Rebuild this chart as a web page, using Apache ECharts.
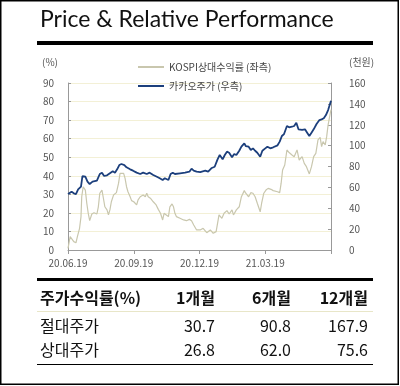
<!DOCTYPE html>
<html><head><meta charset="utf-8">
<script src="https://cdn.jsdelivr.net/npm/echarts@6/dist/echarts.min.js"></script>
<style>html,body{margin:0;padding:0;background:#fff}#c{width:400px;height:386px}</style>
</head><body><div id="c"></div>
<script>
// x = day offset from 2020-06-19
const tickLabels = ['20.06.19','20.09.19','20.12.19','21.03.19'];
const kakaoDays = [0,5,8,11,14,18,20,24,27,30,34,40,44,47,50,54,58,62,65,68,71,74,78,81,86,90,95,100,104,109,113,118,123,127,131,134,139,142,145,148,155,162,168,171,174,178,183,190,194,199,203,207,210,214,217,220,223,227,230,233,237,240,244,246,250,253,256,259,262,266,269,273,276,280,284,290,293,296,299,303,306,310,313,316,319,324,328,331,334,337,340,344,348,351,354,357,360,364];
const kakaoPrice = [53.6,55.9,54.3,53.6,58.1,60.7,70.9,70.2,65.5,63.2,65.5,66.4,72.8,74.1,70.9,71.6,73.5,75.4,74.1,77.3,81.4,82.4,81.4,79.2,77.3,76.0,74.1,72.8,74.1,72.8,74.1,71.9,70.2,68.7,67.1,68.7,67.1,72.8,74.1,72.8,73.5,74.1,75.0,77.9,76.0,75.0,74.7,76.0,75.0,78.6,79.8,86.9,91.0,86.9,91.0,94.2,93.2,88.8,92.0,91.0,95.1,99.0,102.2,99.6,99.0,95.8,97.4,95.1,93.2,89.4,95.1,97.4,99.0,97.4,98.4,100.3,103.8,109.2,111.1,118.8,117.5,118.1,118.8,122.0,115.6,115.0,115.6,112.4,109.2,112.4,115.6,120.7,124.5,125.2,126.2,129.3,134.1,143.0];
const relDays = [0,3,5,8,11,13,16,18,19,21,24,26,28,30,33,36,40,42,44,47,49,51,54,56,58,60,63,65,67,70,72,74,77,79,81,83,86,88,91,95,97,100,102,104,107,109,111,114,118,122,125,128,131,133,136,139,141,144,146,148,150,155,160,164,168,171,174,178,183,187,192,197,201,205,207,209,213,216,220,223,227,229,233,237,240,244,246,250,253,256,259,262,266,268,271,274,277,281,284,290,293,295,297,300,303,306,310,313,317,320,324,327,330,334,337,340,343,346,349,351,353,356,358,360,363,364];
const relReturn = [0.9,7.2,6.3,4.5,3.9,7.2,11.7,18.0,28.7,34.1,32.3,25.2,19.8,15.8,19.4,20.1,19.4,23.3,30.6,32.3,27.9,23.3,21.6,18.9,21.6,26.0,29.6,30.6,30.9,36.0,41.3,41.7,41.3,38.6,34.1,31.4,28.7,26.6,26.0,24.3,27.0,28.7,27.9,29.6,28.7,30.6,28.7,27.9,26.0,24.3,21.9,19.8,16.2,19.8,18.9,18.0,23.3,24.8,23.3,19.8,18.0,17.1,16.2,15.8,16.5,15.8,13.5,10.8,10.8,11.7,9.3,10.8,9.0,9.9,14.4,18.9,17.1,19.8,21.2,19.4,21.6,18.9,21.6,23.3,28.7,32.0,30.6,28.7,30.9,30.6,28.7,25.2,20.6,25.2,30.6,32.3,33.2,32.7,32.0,31.4,30.9,36.0,43.1,45.8,53.9,52.5,51.2,50.3,53.9,48.5,50.3,46.7,44.9,41.0,44.9,50.3,52.1,59.3,60.7,55.7,58.4,56.6,61.1,67.4,73.7,75.6];
const tableHeader = ['주가수익률(%)','1개월','6개월','12개월'];
const tableRows = [['절대주가','30.7','90.8','167.9'],['상대주가','26.8','62.0','75.6']];
const relName = 'KOSPI상대수익률 (좌측)';
const kakaoName = '카카오주가 (우측)';

const zip = (a,b)=>a.map((d,i)=>[d,b[i]]);
const chart = echarts.init(document.getElementById('c'));
const FONT = '"Noto Sans CJK KR","Noto Sans",sans-serif';
const lbl = {color:'#555', fontSize:10, fontFamily:FONT};

const g = [];
g.push({type:'text', left:40, top:8, style:{text:'Price & Relative Performance', fontSize:23, fontFamily:'Lato, "Open Sans", sans-serif', fill:'#111'}});
g.push({type:'rect', shape:{x:37,y:41,width:336,height:4}, style:{fill:'#000'}});
g.push({type:'rect', shape:{x:37,y:278,width:336,height:3}, style:{fill:'#000'}});
g.push({type:'rect', shape:{x:37,y:311,width:336,height:1}, style:{fill:'#e8e6c8'}});
g.push({type:'rect', shape:{x:37,y:364,width:336,height:1}, style:{fill:'#000'}});
g.push({type:'rect', shape:{x:0.75,y:0.75,width:397.5,height:383.5}, style:{fill:'none', stroke:'#000', lineWidth:1.5}});
const colRight = [215, 291, 368];
const rowY = [298, 326, 350];
g.push({type:'text', x:40, y:rowY[0], style:{text:tableHeader[0], fontSize:16, fontWeight:'bold', fontFamily:FONT, fill:'#111', textVerticalAlign:'middle'}});
for (let c=1;c<4;c++) g.push({type:'text', x:colRight[c-1], y:rowY[0], style:{text:tableHeader[c], fontSize:16, fontWeight:'bold', fontFamily:FONT, fill:'#111', textAlign:'right', textVerticalAlign:'middle'}});
tableRows.forEach((r,ri)=>{
  g.push({type:'text', x:40, y:rowY[ri+1], style:{text:r[0], fontSize:16, fontFamily:FONT, fill:'#111', textVerticalAlign:'middle'}});
  for (let c=1;c<4;c++) g.push({type:'text', x:colRight[c-1], y:rowY[ri+1], style:{text:r[c], fontSize:16, fontFamily:FONT, fill:'#111', textAlign:'right', textVerticalAlign:'middle'}});
});

chart.setOption({
  animation:false,
  backgroundColor:'#fff',
  graphic: g,
  legend:{
    orient:'vertical', left:133, top:57, itemWidth:26, itemHeight:2, itemGap:9,
    icon:'rect',
    textStyle:{color:'#444', fontSize:10, fontFamily:FONT},
    data:[relName, kakaoName]
  },
  grid:{left:68, right:69, top:83, bottom:136},
  xAxis:{
    type:'value', min:0, max:364, interval:91,
    axisLine:{lineStyle:{color:'#999'}},
    axisTick:{inside:false, length:4, lineStyle:{color:'#999'}},
    splitLine:{show:false},
    axisLabel:{...lbl, margin:8, formatter:(v)=>{const i=Math.round(v/91); return i<tickLabels.length?tickLabels[i]:'';}}
  },
  yAxis:[
    {type:'value', min:0, max:90, interval:10, name:'(%)', nameLocation:'end', nameGap:16,
     nameTextStyle:{...lbl, align:'right', padding:[0,10,0,0]},
     axisLine:{show:true, lineStyle:{color:'#999'}}, axisTick:{show:true, inside:true, length:3, lineStyle:{color:'#999'}},
     splitLine:{lineStyle:{color:'#f3f0d6'}}, axisLabel:{...lbl, margin:14}},
    {type:'value', min:0, max:160, interval:20, name:'(천원)', nameLocation:'end', nameGap:16,
     nameTextStyle:{...lbl, align:'left', padding:[0,0,0,18]},
     axisLine:{show:true, lineStyle:{color:'#999'}}, axisTick:{show:true, inside:true, length:3, lineStyle:{color:'#999'}},
     splitLine:{show:false}, axisLabel:{...lbl, margin:18}}
  ],
  series:[
    {name:relName, type:'line', yAxisIndex:0, data:zip(relDays, relReturn), showSymbol:false, symbol:'none',
     lineStyle:{color:'#c9c7ae', width:1.2}, itemStyle:{color:'#c9c7ae'}},
    {name:kakaoName, type:'line', yAxisIndex:1, data:zip(kakaoDays, kakaoPrice), showSymbol:false, symbol:'none',
     lineStyle:{color:'#1c3f7c', width:1.8}, itemStyle:{color:'#1c3f7c'}}
  ]
});
</script></body></html>
